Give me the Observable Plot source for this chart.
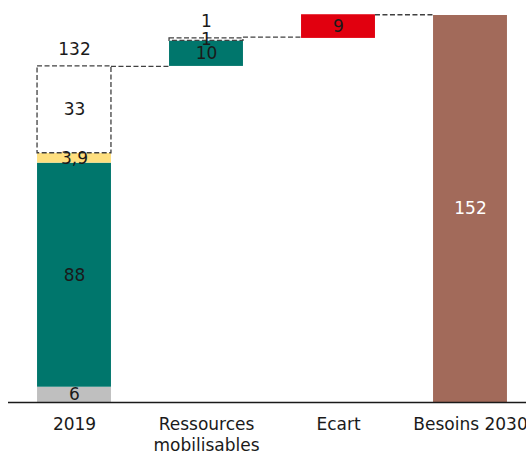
<!DOCTYPE html>
<html><head><meta charset="utf-8">
<script src="https://cdn.jsdelivr.net/npm/d3@7"></script>
<script src="https://cdn.jsdelivr.net/npm/@observablehq/plot@0.6"></script>
<style>body{margin:0;background:#fff;}svg{overflow:visible;}</style>
</head><body><div id="chart"></div>
<script>
const categories = ["2019", "Ressources\nmobilisables", "Ecart", "Besoins 2030"];
const segCategory = [0, 0, 0, 0, 1, 1, 2, 3];
const segLow  = [0, 6, 94, 97.9, 132, 142, 143, 0];
const segHigh = [6, 94, 97.9, 132, 142, 143, 152.3, 152];
const segLabel = ["6", "88", "3,9", "33", "10", "1", "9", "152"];
const segKind = ["grey", "teal", "yellow", "open", "teal", "open", "red", "brown"];
const totalCategory = [0, 1];
const totalValue = [132, 143];
const totalLabel = ["132", "1"];
const connFrom = [0, 1, 2];
const connLevel = [132, 143.5, 152.3];

const colors = {grey: "#bfbfbf", teal: "#00766c", yellow: "#fedf7f", open: "#ffffff", red: "#e1000f", brown: "#a26a5a"};
const half = 0.28;
const segs = segCategory.map((c, i) => ({c, lo: segLow[i], hi: segHigh[i], label: segLabel[i], kind: segKind[i]}));
const filled = segs.filter(d => d.kind !== "open");
const open = segs.filter(d => d.kind === "open");
const totals = totalCategory.map((c, i) => ({c, v: totalValue[i], label: totalLabel[i]}));
const conns = connFrom.map((c, i) => ({c, v: connLevel[i]}));
const font = "DejaVu Sans";

const plot = Plot.plot({
  width: 526, height: 453,
  marginLeft: 8, marginRight: 0, marginTop: 0, marginBottom: 0,
  x: {domain: [-0.5, 3.5], range: [8, 536], axis: null},
  y: {domain: [0, 152], range: [402, 15], axis: null},
  style: {fontFamily: font, fontSize: "17px", color: "#1a1a1a"},
  marks: [
    Plot.rect(filled, {x1: d => d.c - half, x2: d => d.c + half, y1: "lo", y2: "hi", fill: d => colors[d.kind]}),
    Plot.rect(open, {x1: d => d.c - half, x2: d => d.c + half, y1: "lo", y2: "hi", fill: "white", stroke: "#404040", strokeDasharray: "5,2.5", strokeWidth: 1.3}),
    Plot.ruleY(conns, {x1: d => d.c + half, x2: d => d.c + 1 - half, y: "v", stroke: "#404040", strokeDasharray: "5,2.5", strokeWidth: 1.3}),
    Plot.text(segs, {x: "c", y: d => (d.lo + d.hi) / 2, text: "label", fill: d => d.kind === "brown" ? "white" : "#1a1a1a", fontSize: 17}),
    Plot.text(totals, {x: "c", y: "v", text: "label", dy: -17, fill: "#1a1a1a", fontSize: 17}),
    Plot.ruleY([0], {stroke: "#1a1a1a", strokeWidth: 1.6}),
    Plot.text(categories, {x: (d, i) => i, y: 0, text: d => d, lineAnchor: "top", dy: 12, lineHeight: 1.25, fill: "#1a1a1a", fontSize: 17})
  ]
});
document.getElementById("chart").append(plot);
</script>
</body></html>
